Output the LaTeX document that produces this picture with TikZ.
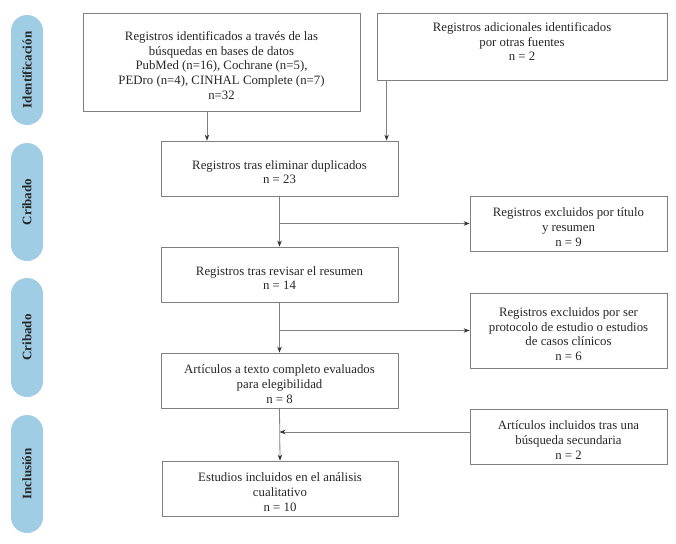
\documentclass[tikz,border=0pt]{standalone}
\usepackage{fontspec}
\setmainfont{Liberation Serif}
\usepackage{xcolor}
\usepackage{tikz}
\usetikzlibrary{arrows.meta, positioning, calc}
\definecolor{fasecolor}{HTML}{9ECDE4}
\definecolor{textocolor}{HTML}{262626}
\definecolor{bordecolor}{HTML}{7F7F7F}
\newcommand{\sube}{\rule{0pt}{16pt}}

\begin{document}
\begin{tikzpicture}[x=1pt, y=-1pt,
    caja/.style={draw=bordecolor, line width=0.8pt, align=center, text=textocolor,
        font=\fontsize{12.8}{14.7}\selectfont, inner sep=2pt},
    fase/.style={fill=fasecolor, rounded corners=16pt, minimum height=32pt, rotate=90,
        text=textocolor, font=\fontsize{13}{15}\selectfont\bfseries},
    flecha/.style={draw=bordecolor, line width=0.8pt, -{Stealth[length=6pt, width=4.5pt, color=black!80]}}]
    \useasboundingbox (0,0) rectangle (676,543);
    % Fases
    \node[fase, minimum width=110pt] (fase1) at (27,70) {Identificación};
    \node[fase, minimum width=118pt] (fase2) at (27,202) {Cribado};
    \node[fase, minimum width=119pt] (fase3) at (27,337.5) {Cribado};
    \node[fase, minimum width=118pt] (fase4) at (27,474) {Inclusión};
    % Cajas
    \node[caja, minimum width=277pt, minimum height=98pt] (busq) at (221.5,62)
        {\sube Registros identificados a través de las\\búsquedas en bases de datos\\PubMed (n=16), Cochrane (n=5),\\PEDro (n=4), CINHAL Complete (n=7)\\n=32};
    \node[caja, minimum width=290pt, minimum height=67pt] (otras) at (522,46.5)
        {Registros adicionales identificados\\por otras fuentes\\n = 2\\[-5pt]};
    \node[caja, minimum width=237pt, minimum height=55pt] (dupl) at (279.5,168.5)
        {\sube Registros tras eliminar duplicados\\n = 23};
    \node[caja, minimum width=197pt, minimum height=55pt] (excl1) at (568.5,223.5)
        {\sube Registros excluidos por título\\y resumen\\n = 9};
    \node[caja, minimum width=237pt, minimum height=55pt] (resumen) at (279.5,274.5)
        {\sube Registros tras revisar el resumen\\n = 14};
    \node[caja, minimum width=197pt, minimum height=75pt] (excl2) at (568.5,330.5)
        {\sube Registros excluidos por ser\\protocolo de estudio o estudios\\de casos clínicos\\n = 6};
    \node[caja, minimum width=237pt, minimum height=55pt] (completo) at (279.5,380.5)
        {\sube Artículos a texto completo evaluados\\para elegibilidad\\n = 8};
    \node[caja, minimum width=197pt, minimum height=55pt] (secund) at (568.5,436.5)
        {\sube Artículos incluidos tras una\\búsqueda secundaria\\n = 2};
    \node[caja, minimum width=236pt, minimum height=55pt] (incl) at (280,488.5)
        {\sube Estudios incluidos en el análisis\\cualitativo\\n = 10};
    % Conectores
    \draw[flecha] ([xshift=-14.5pt]busq.south) -- ([xshift=-14.5pt]busq.south |- dupl.north);
    \draw[flecha] ([xshift=10pt]otras.south west) -- ([xshift=10pt]otras.south west |- dupl.north);
    \draw[flecha] (dupl.south) -- (resumen.north);
    \draw[flecha] (dupl.south |- excl1.west) -- (excl1.west);
    \draw[flecha] (resumen.south) -- (completo.north);
    \draw[flecha] (resumen.south |- excl2.west) -- (excl2.west);
    \draw[flecha] (completo.south) -- (incl.north);
    \draw[flecha] ([yshift=4.5pt]secund.west) -- ([yshift=4.5pt]completo.south |- secund.west);
\end{tikzpicture}
\end{document}
